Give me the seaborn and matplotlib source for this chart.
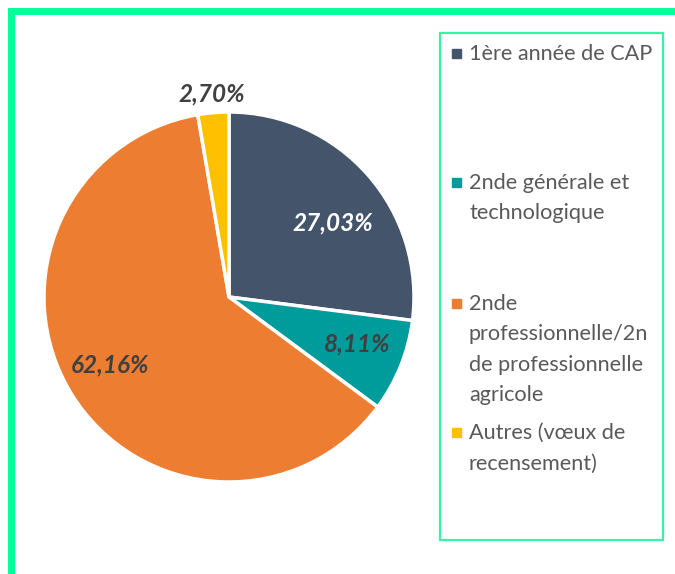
import numpy as np
import matplotlib.pyplot as plt
import matplotlib.patches as mpatches
import seaborn as sns

# data
categories = ['1ère année de CAP',
              '2nde générale et\ntechnologique',
              '2nde\nprofessionnelle/2n\nde professionnelle\nagricole',
              'Autres (vœux de\nrecensement)']
values = [27.03, 8.11, 62.16, 2.70]
colors = ['#44546A', '#009B9B', '#ED7D31', '#FFC000']
pct_colors = ['white', '#404040', '#404040', '#404040']

sns.set_theme(style='white')
plt.rcParams['font.family'] = ['Lato', 'DejaVu Sans']

W, H = 675, 574
fig = plt.figure(figsize=(W / 100, H / 100), dpi=100)

def fx(x):
    return x / W

def fy(y):
    return 1 - y / H

# pie axes : centre (229, 297), radius 185 px
cx, cy, r = 229, 297, 185
ax = fig.add_axes([fx(cx - r), fy(cy + r), 2 * r / W, 2 * r / H])

def fmt(p):
    return f'{p:.2f}%'.replace('.', ',')

wedges, texts, autotexts = ax.pie(values, colors=colors, startangle=90, counterclock=False,
                                  autopct=fmt, pctdistance=0.74,
                                  wedgeprops=dict(edgecolor='white', linewidth=2.5))
ax.set_xlim(-1, 1)
ax.set_ylim(-1, 1)
ax.set_aspect('auto')

for t, c in zip(autotexts, pct_colors):
    t.set_color(c)
    t.set_fontsize(17.5)
    t.set_fontweight('bold')
    t.set_fontstyle('italic')
# small slice label outside
w = wedges[3]
ang = np.deg2rad((w.theta1 + w.theta2) / 2)
autotexts[3].set_position((1.1 * np.cos(ang), 1.1 * np.sin(ang)))
# first label a bit higher like the original
w = wedges[0]
ang = np.deg2rad((w.theta1 + w.theta2) / 2 - 6)
autotexts[0].set_position((0.69 * np.cos(ang), 0.69 * np.sin(ang)))
# nudge the other two a little, as in the original
w = wedges[1]
ang = np.deg2rad((w.theta1 + w.theta2) / 2 + 2)
autotexts[1].set_position((0.74 * np.cos(ang), 0.74 * np.sin(ang)))
w = wedges[2]
ang = np.deg2rad((w.theta1 + w.theta2) / 2 - 2)
autotexts[2].set_position((0.74 * np.cos(ang), 0.74 * np.sin(ang)))

# outer green frame (cropped at right/bottom)
fig.add_artist(mpatches.Rectangle((fx(11), fy(600)), fx(700), fy(11) - fy(600),
                                  transform=fig.transFigure, fill=False,
                                  edgecolor='#00FF99', linewidth=5))

# legend box
lx0, ly0, lx1, ly1 = 440, 33, 663, 540
fig.add_artist(mpatches.Rectangle((fx(lx0), fy(ly1)), fx(lx1) - fx(lx0), fy(ly0) - fy(ly1),
                                  transform=fig.transFigure, fill=False,
                                  edgecolor='#33F5A5', linewidth=1.6))

entry_y = [53, 182, 303, 432]
for lab, col, y in zip(categories, colors, entry_y):
    fig.add_artist(mpatches.Rectangle((fx(452), fy(y + 5)), fx(9), fy(0) - fy(9),
                                      transform=fig.transFigure, color=col))
    fig.text(fx(469), fy(y - 9), lab, ha='left', va='top', fontsize=15.6,
             color='#595959', linespacing=1.65)

plt.savefig('out.png', dpi=100)
